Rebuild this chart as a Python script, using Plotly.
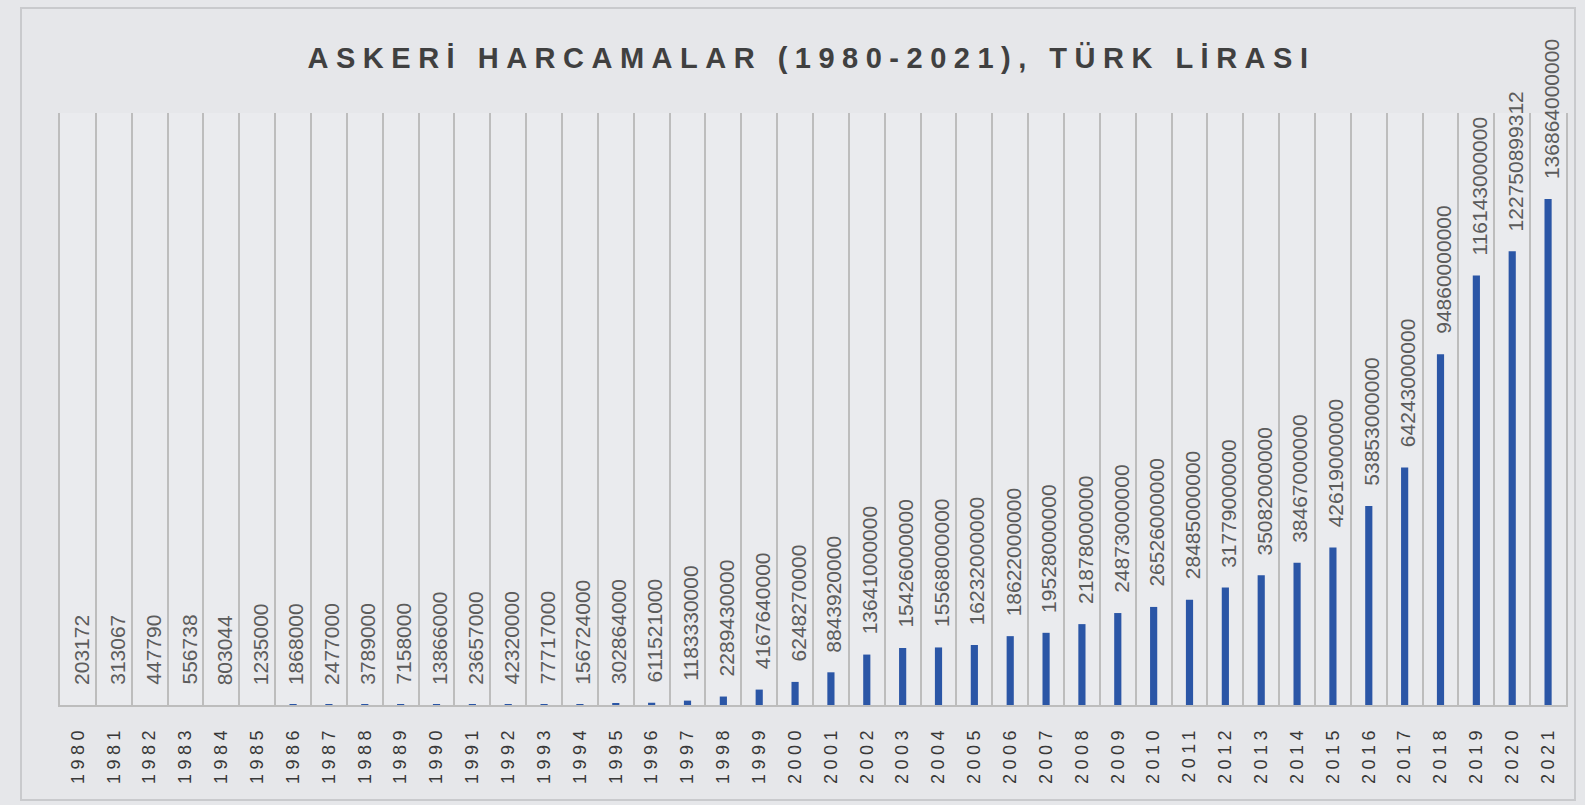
import plotly.graph_objects as go

years = [str(y) for y in range(1980, 2022)]
spending = [
    203172, 313067, 447790, 556738, 803044, 1235000, 1868000, 2477000,
    3789000, 7158000, 13866000, 23657000, 42320000, 77717000, 156724000,
    302864000, 611521000, 1183330000, 2289430000, 4167640000, 6248270000,
    8843920000, 13641000000, 15426000000, 15568000000, 16232000000,
    18622000000, 19528000000, 21878000000, 24873000000, 26526000000,
    28485000000, 31779000000, 35082000000, 38467000000, 42619000000,
    53853000000, 64243000000, 94860000000, 116143000000, 122750899312,
    136864000000,
]
labels = [str(v) for v in spending]
title_text = "ASKERİ HARCAMALAR (1980-2021), TÜRK LİRASI"

FONT = "Liberation Sans, Arial, sans-serif"

fig = go.Figure(
    go.Bar(
        x=years,
        y=spending,
        width=0.2,
        marker=dict(color="#2b56a6", line=dict(width=0)),
        hoverinfo="x+y",
    )
)

# value labels as annotations so the gap above each bar can match the reference
annotations = [
    dict(
        x=i, y=val, xref="x", yref="y",
        text=lab, showarrow=False, textangle=-90,
        xanchor="center", yanchor="bottom", yshift=18, xshift=3,
        font=dict(family=FONT, size=21, color="#5c5c5c"),
    )
    for i, (val, lab) in enumerate(zip(spending, labels))
]

fig.update_layout(
    width=1585,
    height=805,
    margin=dict(l=60, r=19, t=113, b=100),
    paper_bgcolor="#e6e7ea",
    plot_bgcolor="#eaebee",
    showlegend=False,
    annotations=annotations,
    title=dict(
        text=title_text,
        font=dict(family=FONT, size=29, color="#404040", weight="bold"),
        x=0.512,
        xref="container",
        xanchor="center",
        y=1 - 58 / 805,
        yref="container",
        yanchor="middle",
    ),
    shapes=[
        dict(
            type="rect", xref="paper", yref="paper",
            x0=-(60 - 21) / 1506, x1=1 + (1575 - 1566) / 1506,
            y0=-(800 - 705) / 592, y1=1 + (113 - 8) / 592,
            line=dict(color="#c9cacd", width=2),
            fillcolor="rgba(0,0,0,0)", layer="below",
        )
    ],
    xaxis=dict(
        type="category",
        range=[-0.5, len(years) - 0.5],
        tickson="boundaries",
        showgrid=True,
        gridcolor="#bdbdbd",
        gridwidth=1.5,
        showline=True,
        linecolor="#bdbdbd",
        linewidth=1.5,
        ticks="",
        tickangle=-90,
        ticklabelstandoff=12,
        tickfont=dict(family=FONT, size=18, color="#383838"),
    ),
    yaxis=dict(
        range=[0, 1.6013e11],
        showgrid=False,
        zeroline=False,
        showticklabels=False,
        showline=True,
        mirror=True,
        linecolor="#bdbdbd",
        linewidth=1.5,
    ),
)

post = (
    "var s=document.createElement('style');"
    "s.textContent='html,body{margin:0;padding:0;background:#e6e7ea;overflow:hidden}"
    " .gtitle{letter-spacing:7.5px} .xtick text{letter-spacing:4.5px}';"
    "document.head.appendChild(s);"
)

fig.write_html("out.html", post_script=post, config={"displayModeBar": False})
